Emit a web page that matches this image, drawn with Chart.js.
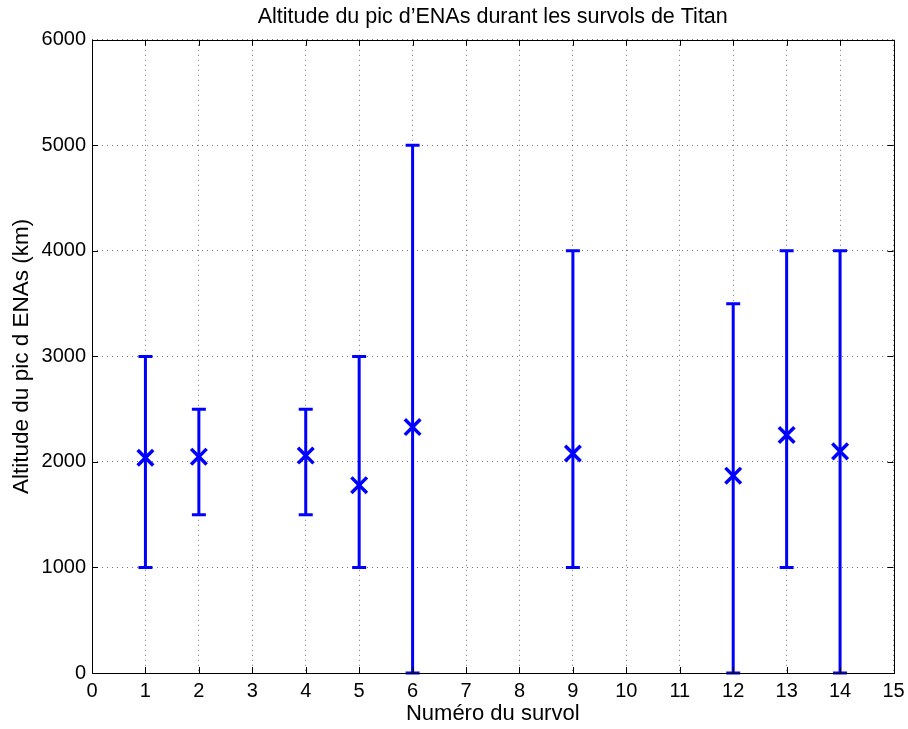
<!DOCTYPE html>
<html><head><meta charset="utf-8">
<script src="https://cdn.jsdelivr.net/npm/chart.js@4.4.1/dist/chart.umd.min.js"></script>
<style>html,body{margin:0;padding:0;background:#fff}#wrap{width:908px;height:729px}</style>
</head><body><div id="wrap"><canvas id="c" width="908" height="729"></canvas></div>
<script>
const flybys = [1, 2, 4, 5, 6, 9, 12, 13, 14];
const peakAltitude = [2040, 2050, 2060, 1780, 2330, 2080, 1870, 2255, 2100];
const lowerBound = [1000, 1500, 1500, 1000, 0, 1000, 0, 1000, 0];
const upperBound = [3000, 2500, 2500, 3000, 5000, 4000, 3500, 4000, 4000];
const xTicks = [0,1,2,3,4,5,6,7,8,9,10,11,12,13,14,15];
const yTicks = [0,1000,2000,3000,4000,5000,6000];

const FONT = 'Liberation Sans, Arial, sans-serif';
const BLUE = '#0000ff';

const errorBars = {
  id: 'errorBars',
  beforeDatasetsDraw(chart) {
    const {ctx, scales: {x, y}} = chart;
    ctx.save();
    ctx.strokeStyle = BLUE;
    ctx.lineWidth = 3;
    ctx.lineCap = 'butt';
    const cap = 7;
    flybys.forEach((f, i) => {
      const px = x.getPixelForValue(f);
      const yl = y.getPixelForValue(lowerBound[i]);
      const yu = y.getPixelForValue(upperBound[i]);
      ctx.beginPath();
      ctx.moveTo(px, yl); ctx.lineTo(px, yu);
      ctx.moveTo(px - cap, yl); ctx.lineTo(px + cap, yl);
      ctx.moveTo(px - cap, yu); ctx.lineTo(px + cap, yu);
      ctx.stroke();
    });
    ctx.restore();
  }
};

const frame = {
  id: 'frame',
  afterDraw(chart) {
    const {ctx, chartArea: a, scales: {x, y}} = chart;
    ctx.save();
    ctx.strokeStyle = '#000';
    ctx.lineWidth = 1;
    const L = 6;
    ctx.beginPath();
    xTicks.forEach(v => {
      const px = Math.round(x.getPixelForValue(v)) + 0.5;
      ctx.moveTo(px, a.bottom); ctx.lineTo(px, a.bottom - L);
      ctx.moveTo(px, a.top); ctx.lineTo(px, a.top + L);
    });
    yTicks.forEach(v => {
      const py = Math.round(y.getPixelForValue(v)) + 0.5;
      ctx.moveTo(a.left, py); ctx.lineTo(a.left + L, py);
      ctx.moveTo(a.right, py); ctx.lineTo(a.right - L, py);
    });
    ctx.stroke();
    ctx.strokeRect(Math.round(a.left) + 0.5, Math.round(a.top) + 0.5, Math.round(a.right - a.left), Math.round(a.bottom - a.top));
    ctx.restore();
  }
};

new Chart(document.getElementById('c'), {
  type: 'scatter',
  data: {
    datasets: [{
      data: flybys.map((f, i) => ({x: f, y: peakAltitude[i]})),
      pointStyle: 'crossRot',
      pointRadius: 11,
      pointHoverRadius: 11,
      borderColor: BLUE,
      backgroundColor: BLUE,
      borderWidth: 3.5,
      pointBorderWidth: 3.5,
      showLine: false
    }]
  },
  options: {
    responsive: false,
    animation: false,
    events: [],
    layout: {padding: {left: 0, right: 13, top: 0, bottom: 0}},
    plugins: {
      legend: {display: false},
      tooltip: {enabled: false},
      title: {
        display: true,
        text: 'Altitude du pic d\u2019ENAs durant les survols de Titan',
        color: '#000',
        fullSize: false,
        font: {family: FONT, size: 21.5, weight: 'normal', lineHeight: 1.2},
        padding: {top: 4, bottom: 10}
      }
    },
    scales: {
      x: {
        type: 'linear', min: 0, max: 15,
        afterBuildTicks(s) { s.ticks = xTicks.map(v => ({value: v})); },
        afterFit(s) { s.height = 56; s.paddingLeft = 0; s.paddingRight = 0; },
        ticks: {color: '#000', font: {family: FONT, size: 20}, padding: 6, callback: v => String(v)},
        grid: {color: 'rgba(0,0,0,0.55)', lineWidth: 1, drawTicks: false},
        border: {display: false, dash: [1, 4]},
        title: {display: true, text: 'Num\u00e9ro du survol', color: '#000', font: {family: FONT, size: 22, lineHeight: 1.2}, padding: {top: 0, bottom: 2}}
      },
      y: {
        type: 'linear', min: 0, max: 6000,
        afterBuildTicks(s) { s.ticks = yTicks.map(v => ({value: v})); },
        afterFit(s) { s.width = 92; s.paddingTop = 0; s.paddingBottom = 0; },
        ticks: {color: '#000', font: {family: FONT, size: 20}, padding: 6, callback: v => String(v)},
        grid: {color: 'rgba(0,0,0,0.55)', lineWidth: 1, drawTicks: false},
        border: {display: false, dash: [1, 4]},
        title: {display: true, text: 'Altitude du pic d ENAs (km)', color: '#000', font: {family: FONT, size: 22.5, lineHeight: 1.2}, padding: {top: 8, bottom: 0}}
      }
    }
  },
  plugins: [errorBars, frame]
});
</script></body></html>
